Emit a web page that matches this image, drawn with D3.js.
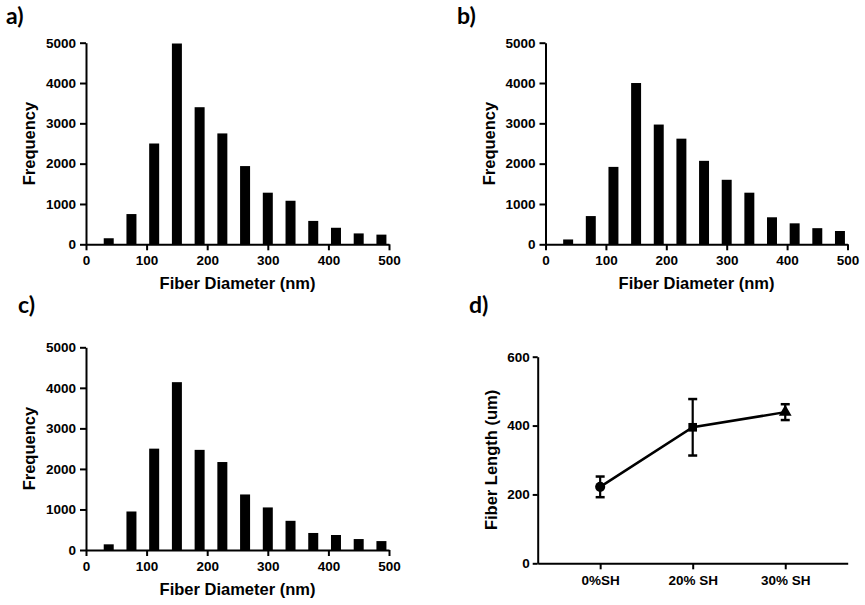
<!DOCTYPE html>
<html>
<head>
<meta charset="utf-8">
<script src="https://cdn.jsdelivr.net/npm/d3@7/dist/d3.min.js"></script>
<style>
  html, body { margin: 0; padding: 0; background: #fff; }
  svg { display: block; }
  .axis path, .axis line { stroke: #000; stroke-width: 2; }
</style>
</head>
<body>
<svg id="fig" width="865" height="605"></svg>
<script>
// Histogram bins (centre of each diameter class, nm)
const binCenters = [37.5, 75, 112.5, 150, 187.5, 225, 262.5, 300, 337.5, 375, 412.5, 450, 487.5];
const binWidth = 37.5;

// Frequency counts per bin for the three samples
const freqA = [150, 750, 2500, 4980, 3400, 2750, 1940, 1280, 1080, 580, 410, 270, 240];
const freqB = [120, 700, 1920, 4000, 2970, 2620, 2070, 1600, 1280, 670, 520, 400, 330];
const freqC = [140, 950, 2500, 4140, 2470, 2170, 1370, 1050, 720, 420, 370, 270, 220];

const diamTicks = [0, 100, 200, 300, 400, 500];
const freqTicks = [0, 1000, 2000, 3000, 4000, 5000];

// Fiber length by formulation (mean and error)
const groups = ["0%SH", "20% SH", "30% SH"];
const lengthMean = [222, 395, 439];
const lengthErr = [30, 82, 23];
const lengthTicks = [0, 200, 400, 600];

const SANS = "'Liberation Sans', Arimo, Arial, sans-serif";
const svg = d3.select("#fig");

function styleTicks(sel) {
  sel.attr("font-family", null).attr("font-size", null);
  sel.selectAll(".tick text")
    .style("font-family", SANS).style("font-weight", "bold")
    .style("font-size", "13.5px").style("fill", "#000");
}

function title(g) {
  return g.append("text")
    .style("font-family", SANS).style("font-weight", "bold")
    .style("font-size", "16.5px").style("fill", "#000");
}

function tag(label, tx, ty) {
  svg.append("text")
    .style("font-family", "Lato, 'Open Sans', sans-serif").style("font-weight", "bold")
    .style("font-size", "23px").style("fill", "#000")
    .attr("x", tx).attr("y", ty).text(label);
}

function histogram(label, values, box) {
  const g = svg.append("g");
  const x = d3.scaleLinear().domain([0, 500]).range([box.x0, box.x1]);
  const y = d3.scaleLinear().domain([0, 5000]).range([box.yBot, box.yTop]);

  const barW = binWidth * 0.44;
  g.selectAll("rect.bar").data(values).join("rect")
    .attr("class", "bar")
    .attr("x", (d, i) => x(binCenters[i] - barW / 2))
    .attr("width", (d, i) => x(binCenters[i] + barW / 2) - x(binCenters[i] - barW / 2))
    .attr("y", d => y(d))
    .attr("height", d => y(0) - y(d))
    .attr("fill", "#000");

  g.append("g").attr("class", "axis")
    .attr("transform", `translate(0,${box.yBot})`)
    .call(d3.axisBottom(x).tickValues(diamTicks).tickFormat(d3.format("d"))
      .tickSize(6).tickPadding(5).tickSizeOuter(0))
    .call(styleTicks);
  g.append("g").attr("class", "axis")
    .attr("transform", `translate(${box.x0},0)`)
    .call(d3.axisLeft(y).tickValues(freqTicks).tickFormat(d3.format("d"))
      .tickSize(6).tickPadding(4).tickSizeOuter(0))
    .call(styleTicks);

  title(g)
    .attr("x", (box.x0 + box.x1) / 2).attr("y", box.yBot + 45)
    .attr("text-anchor", "middle").text("Fiber Diameter (nm)");
  title(g)
    .attr("transform", `translate(${box.x0 - 51},${(box.yTop + box.yBot) / 2}) rotate(-90)`)
    .attr("text-anchor", "middle").text("Frequency");

  tag(label, box.tx, box.ty);
}

histogram("a)", freqA, { x0: 86, x1: 389, yTop: 42.7, yBot: 244.3, tx: 6, ty: 24 });
histogram("b)", freqB, { x0: 545.5, x1: 847.5, yTop: 42.7, yBot: 244.3, tx: 457, ty: 24 });
histogram("c)", freqC, { x0: 86, x1: 389, yTop: 347.3, yBot: 550, tx: 18, ty: 313 });

// Panel d: fiber length line with error bars
(function () {
  const box = { x0: 537.7, x1: 847.7, yTop: 356.7, yBot: 563.3 };
  const g = svg.append("g");
  const x = d3.scalePoint().domain(groups).range([box.x0, box.x1]).padding(0.675);
  const y = d3.scaleLinear().domain([0, 600]).range([box.yBot, box.yTop]);

  g.append("g").attr("class", "axis")
    .attr("transform", `translate(0,${box.yBot})`)
    .call(d3.axisBottom(x).tickSize(6).tickPadding(6).tickSizeOuter(0))
    .call(styleTicks);
  g.append("g").attr("class", "axis")
    .attr("transform", `translate(${box.x0},0)`)
    .call(d3.axisLeft(y).tickValues(lengthTicks).tickFormat(d3.format("d"))
      .tickSize(5).tickPadding(3).tickSizeOuter(0))
    .call(styleTicks);

  const pts = groups.map((k, i) => ({ k, m: lengthMean[i], e: lengthErr[i] }));

  // error bars
  const eb = g.selectAll("g.err").data(pts).join("g").attr("class", "err");
  eb.append("line")
    .attr("x1", d => x(d.k)).attr("x2", d => x(d.k))
    .attr("y1", d => y(d.m - d.e)).attr("y2", d => y(d.m + d.e))
    .attr("stroke", "#000").attr("stroke-width", 2.2);
  [-1, 1].forEach(s => {
    eb.append("line")
      .attr("x1", d => x(d.k) - 4.5).attr("x2", d => x(d.k) + 4.5)
      .attr("y1", d => y(d.m + s * d.e)).attr("y2", d => y(d.m + s * d.e))
      .attr("stroke", "#000").attr("stroke-width", 2.5);
  });

  // connecting line
  g.append("path").datum(pts)
    .attr("d", d3.line().x(d => x(d.k)).y(d => y(d.m)))
    .attr("fill", "none").attr("stroke", "#000").attr("stroke-width", 2.5);

  // markers: circle, square, triangle
  const shapes = [d3.symbolCircle, d3.symbolSquare, d3.symbolTriangle];
  const sizes = [80, 75, 70];
  g.selectAll("path.mk").data(pts).join("path")
    .attr("class", "mk")
    .attr("transform", d => `translate(${x(d.k)},${y(d.m)})`)
    .attr("d", (d, i) => d3.symbol().type(shapes[i]).size(sizes[i])())
    .attr("fill", "#000");

  title(g)
    .attr("transform", `translate(${box.x0 - 41},${(box.yTop + box.yBot) / 2}) rotate(-90)`)
    .attr("text-anchor", "middle").text("Fiber Length (um)");

  tag("d)", 469, 313);
})();
</script>
</body>
</html>
